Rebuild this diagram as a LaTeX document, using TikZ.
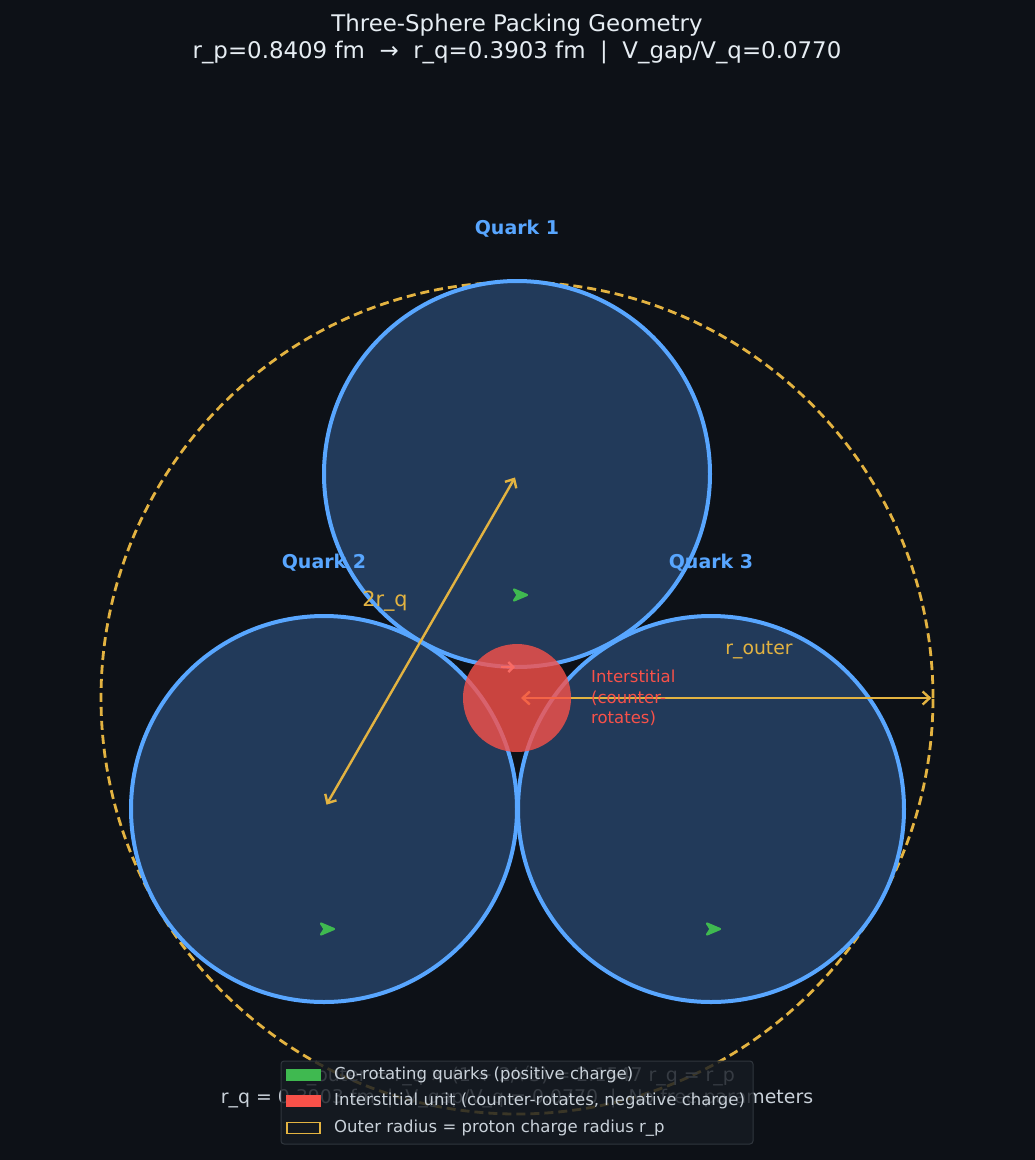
\documentclass[tikz,border=0pt]{standalone}
\usepackage{fontspec}
\setmainfont{DejaVu Sans}
\usetikzlibrary{arrows.meta,calc}
\definecolor{bg}{HTML}{0D1117}
\definecolor{quarkfill}{HTML}{223A5A}
\definecolor{quarkedge}{HTML}{58A6FF}
\definecolor{gold}{HTML}{E3B341}
\definecolor{gapred}{HTML}{F85149}
\definecolor{cogreen}{HTML}{3FB950}
\definecolor{titletext}{HTML}{E6EDF3}
\definecolor{softtext}{HTML}{C9D1D9}
\definecolor{legfill}{HTML}{161B22}
\definecolor{legedge}{HTML}{30363D}
\tikzset{
  quark/.style={circle, inner sep=0pt, minimum size=386pt, fill=quarkfill, draw=quarkedge, line width=4pt},
  outerring/.style={circle, inner sep=0pt, minimum size=832pt, draw=gold, line width=2.8pt, dash pattern=on 9pt off 5pt},
  gapball/.style={circle, inner sep=0pt, minimum size=108pt, fill=gapred, fill opacity=0.8},
  quarklabel/.style={text=quarkedge, font=\fontsize{19}{22}\selectfont\bfseries},
  dimline/.style={draw=gold, line width=2.4pt, {Straight Barb[length=7pt,width=13pt]}-{Straight Barb[length=7pt,width=13pt]}},
  dimlabel/.style={text=gold},
  chevron/.pic={\filldraw[line width=2.2pt, line join=round] (7,0) -- (-6,-5.5) -- (-2.5,0) -- (-6,5.5) -- cycle;},
  legpatch/.style={minimum width=35pt, minimum height=12pt, inner sep=0pt},
  legtext/.style={anchor=west, text=softtext, font=\fontsize{16.5}{19}\selectfont, inner sep=0pt},
}
\begin{document}
\begin{tikzpicture}[x=1pt,y=-1pt]
\useasboundingbox (0,0) rectangle (1035,1160);
\fill[bg] (0,0) rectangle (1035,1160);

% title
\node[text=titletext, align=center, font=\fontsize{22.9}{27}\selectfont] (title) at (517,39)
  {Three-Sphere Packing Geometry\\r\_p=0.8409 fm \ → \ r\_q=0.3903 fm \ | \ V\_gap/V\_q=0.0770};

% outer radius
\node[outerring] (outer) at (517,698) {};

% quarks
\node[quark] (q1) at (517,474) {};
\node[quark] (q2) at (324,809) {};
\node[quark] (q3) at (711,809) {};

% rotation markers
\pic[color=cogreen] at (520,595) {chevron};
\pic[color=cogreen] at (327,929) {chevron};
\pic[color=cogreen] at (713,929) {chevron};

% dimension arrows
\coordinate (centroid) at (517,698);
\draw[dimline, shorten <=4pt, shorten >=5pt] (q1.center) -- (q2.center);
\draw[dimline, shorten <=4pt, shorten >=3pt] (centroid) -- (outer.east);

% interstitial
\node[gapball] (gap) at (centroid) {};
\draw[draw=gapred!85!white, line width=2.4pt, -{Straight Barb[length=5pt,width=10pt]}] (501,667) -- (515,667);

% labels
\node[quarklabel] (l1) at (517,229) {Quark 1};
\node[quarklabel] (l2) at (324,563) {Quark 2};
\node[quarklabel] (l3) at (711,563) {Quark 3};
\node[dimlabel, font=\fontsize{20.8}{24}\selectfont] (l2rq) at (385,601) {2r\_q};
\node[dimlabel, font=\fontsize{18.8}{22}\selectfont] (lrout) at (759,650) {r\_outer};
\node[text=gapred, anchor=west, align=left, inner sep=0pt, font=\fontsize{16.5}{20.5}\selectfont] (lgap) at (591,698)
  {Interstitial\\(counter-\\rotates)};

% bottom formula text
\node[text=softtext, align=center, font=\fontsize{18.9}{22}\selectfont] (formula) at (517,1087)
  {r\_outer = r\_q × (1 + 2/√3) = 2.1547 r\_q = r\_p\\r\_q = 0.3903 fm \ | \ V\_gap/V\_q = 0.0770 \ | \ No free parameters};

% legend
\node[fill=legfill, fill opacity=0.82, draw=legedge, draw opacity=1, line width=1pt, rounded corners=3pt,
      minimum width=472pt, minimum height=83pt, inner sep=0pt] (legend) at (517,1102.5) {};
\node[legpatch, fill=cogreen] (p1) at (303.5,1075) {};
\node[legpatch, fill=gapred] (p2) at (303.5,1101) {};
\node[legpatch, draw=gold, line width=1.5pt, minimum width=33pt, minimum height=11pt] (p3) at (303.5,1128) {};
\node[legtext] (t1) at (334,1075) {Co-rotating quarks (positive charge)};
\node[legtext] (t2) at (334,1101) {Interstitial unit (counter-rotates, negative charge)};
\node[legtext] (t3) at (334,1128) {Outer radius = proton charge radius r\_p};
\end{tikzpicture}
\end{document}
